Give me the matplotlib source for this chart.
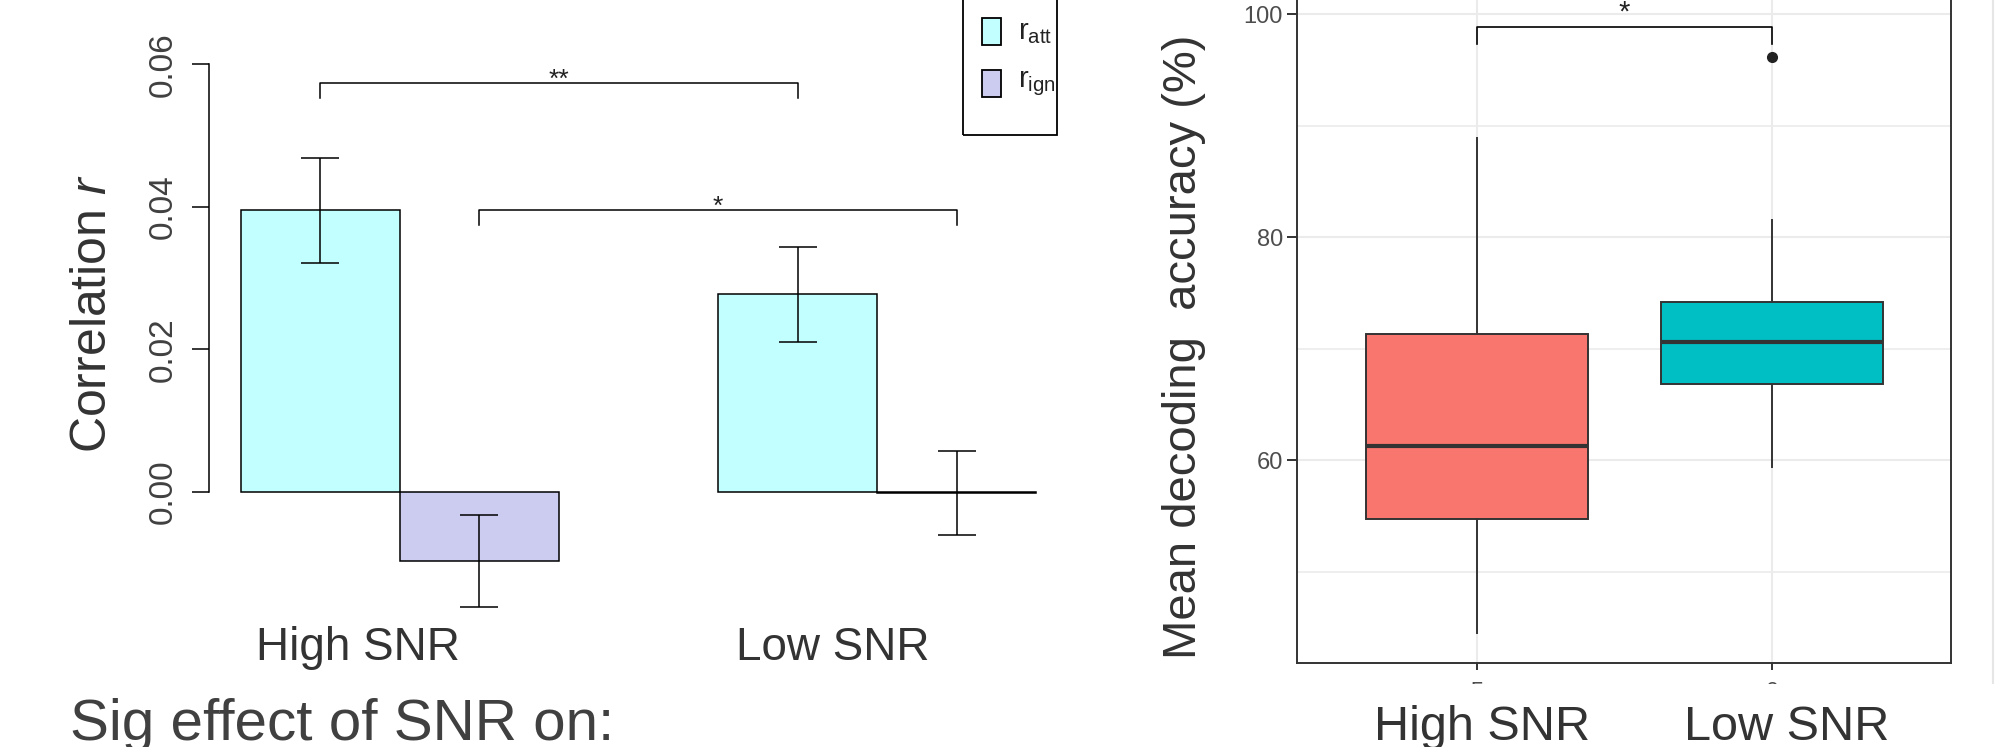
import numpy as np
import matplotlib
matplotlib.use("Agg")
import matplotlib.pyplot as plt
from matplotlib.patches import Rectangle
from matplotlib.lines import Line2D

plt.rcParams['font.family'] = ['Liberation Sans', 'DejaVu Sans']
plt.rcParams['mathtext.fontset'] = 'custom'
plt.rcParams['mathtext.rm'] = 'Liberation Sans'
plt.rcParams['mathtext.it'] = 'Liberation Sans:italic'

# Datos del panel izquierdo (barras de correlacion)
grupos = ['High SNR', 'Low SNR']
r_att = [0.0395, 0.0277]
r_ign = [-0.0097, -0.0002]
sem_att = [0.0074, 0.0067]
sem_ign = [0.0064, 0.0059]
color_att = '#C2FFFF'
color_ign = '#CCCCF0'

# Datos del panel derecho (boxplot de precision)
box_q1 = [54.7, 66.8]
box_med = [61.3, 70.6]
box_q3 = [71.3, 74.2]
box_lo = [44.5, 59.4]
box_hi = [88.9, 81.5]
box_out = [[], [96.2]]
box_colores = ['#F8766D', '#00BFC4']
box_ticks = ['5', '0']

W, H = 2010, 747
fig = plt.figure(figsize=(W / 100, H / 100), dpi=100)


def fx(x):
    return x / W


def fy(y):
    return 1 - y / H


# ---------------- panel izquierdo ----------------
ax1 = fig.add_axes([fx(209), fy(670), fx(1068 - 209), (670) / H])
x_att = np.array([1.5 + 3 * i for i in range(len(grupos))])
x_ign = x_att + 1
ax1.bar(x_att, r_att, width=1, color=color_att, edgecolor='black', linewidth=1.1)
ax1.bar(x_ign, r_ign, width=1, color=color_ign, edgecolor='black', linewidth=1.1)
ax1.errorbar(x_att, r_att, yerr=sem_att, fmt='none', ecolor='black', elinewidth=1.1, capsize=14, capthick=1.1)
ax1.errorbar(x_ign, r_ign, yerr=sem_ign, fmt='none', ecolor='black', elinewidth=1.1, capsize=14, capthick=1.1)
ax1.set_xlim(0.8, 6.2)
ax1.set_ylim(-0.025, 0.069)
for s in ['top', 'right', 'bottom']:
    ax1.spines[s].set_visible(False)
ax1.spines['left'].set_bounds(0, 0.06)
ax1.spines['left'].set_linewidth(1.1)
ax1.set_xticks([])
ax1.set_yticks([0, 0.02, 0.04, 0.06])
ax1.set_yticklabels(['0.00', '0.02', '0.04', '0.06'], rotation=90, va='center')
ax1.tick_params(axis='y', length=12, width=1.1, pad=10, labelsize=24, labelcolor='#404040')


def corchete(ax, x0, x1, y, y_end, texto, size, off):
    ax.plot([x0, x0, x1, x1], [y_end, y, y, y_end], color='black', lw=1.1)
    ax.text((x0 + x1) / 2, y - off, texto, ha='center', va='baseline', fontsize=size, color='#222222')


corchete(ax1, x_att[0], x_att[1], 0.0573, 0.0552, '**', 19, 0.0005)
corchete(ax1, x_ign[0], x_ign[1], 0.0395, 0.0375, '*', 19, 0.0005)

fig.text(fx(93), fy(314), 'Correlation $r$', rotation=90, ha='center', va='center', fontsize=36, color='#333333')
fig.text(fx(358), fy(660), 'High SNR', ha='center', va='baseline', fontsize=33, color='#333333')
fig.text(fx(833), fy(660), 'Low SNR', ha='center', va='baseline', fontsize=33, color='#333333')
fig.text(fx(70), fy(740), 'Sig effect of SNR on:', ha='left', va='baseline', fontsize=42, color='#404040')

# leyenda (caja cortada arriba)
fig.patches.append(Rectangle((fx(963), fy(135)), fx(1057 - 963), 150 / H, transform=fig.transFigure,
                             fill=False, edgecolor='black', linewidth=1.3))
for yc, col, lab in [(32, color_att, r'$\mathrm{r}_{\mathrm{att}}$'), (84, color_ign, r'$\mathrm{r}_{\mathrm{ign}}$')]:
    fig.patches.append(Rectangle((fx(982), fy(yc + 13)), fx(19), 27 / H, transform=fig.transFigure,
                                 facecolor=col, edgecolor='black', linewidth=1.3))
    fig.text(fx(1018), fy(yc), lab, ha='left', va='center', fontsize=21, color='#222222')

# ---------------- panel derecho ----------------
ax2 = fig.add_axes([fx(1297), fy(663), fx(1951 - 1297), 663 / H])
stats = []
for i in range(len(box_med)):
    stats.append({'q1': box_q1[i], 'med': box_med[i], 'q3': box_q3[i],
                  'whislo': box_lo[i], 'whishi': box_hi[i], 'fliers': box_out[i]})
pos = [1, 2]
bp = ax2.bxp(stats, positions=pos, widths=0.75, patch_artist=True, showcaps=False,
             boxprops=dict(edgecolor='#333333', linewidth=1.4),
             medianprops=dict(color='#333333', linewidth=3),
             whiskerprops=dict(color='#333333', linewidth=1.4),
             flierprops=dict(marker='o', markerfacecolor='#222222', markeredgecolor='#222222', markersize=7))
for patch, col in zip(bp['boxes'], box_colores):
    patch.set_facecolor(col)
ax2.set_xlim(0.39, 2.607)
ax2.set_ylim(41.8, 101.28)
ax2.set_yticks([60, 80, 100])
ax2.set_yticks([50, 70, 90], minor=True)
ax2.set_xticks(pos)
ax2.set_xticklabels(box_ticks)
ax2.grid(True, which='major', color='#EBEBEB', linewidth=1.5)
ax2.grid(True, which='minor', axis='y', color='#EBEBEB', linewidth=1.2)
ax2.set_axisbelow(True)
ax2.spines['top'].set_visible(False)
for s in ['left', 'right', 'bottom']:
    ax2.spines[s].set_color('#333333')
    ax2.spines[s].set_linewidth(1.4)
ax2.tick_params(axis='y', which='major', length=7, width=1.4, color='#333333', labelsize=17, labelcolor='#4D4D4D', pad=3)
ax2.tick_params(axis='y', which='minor', length=0)
ax2.tick_params(axis='x', length=5, width=1.4, color='#333333', labelsize=17, labelcolor='#4D4D4D', pad=9)

ax2.plot([1, 1, 2, 2], [97.31, 98.83, 98.83, 97.31], color='black', lw=1.2)
ax2.text(1.5, 99.4, '*', ha='center', va='baseline', fontsize=21, color='#222222')

# tapa blanca sobre las etiquetas del eje x (cortadas en el original)
fig.patches.append(Rectangle((fx(1200), 0), fx(800), (747 - 684) / H, transform=fig.transFigure,
                             facecolor='white', edgecolor='none', zorder=2))
fig.text(fx(1184), fy(347), 'Mean decoding  accuracy (%)', rotation=90, ha='center', va='center',
         fontsize=34, color='#333333')
fig.text(fx(1482), fy(740), 'High SNR', ha='center', va='baseline', fontsize=35, color='#333333')
fig.text(fx(1787), fy(740), 'Low SNR', ha='center', va='baseline', fontsize=35, color='#333333')

fig.lines.append(Line2D([fx(1993), fx(1993)], [0, 1], transform=fig.transFigure, color='#E6E6E6', linewidth=1.5))

fig.savefig('out.png', dpi=100)
